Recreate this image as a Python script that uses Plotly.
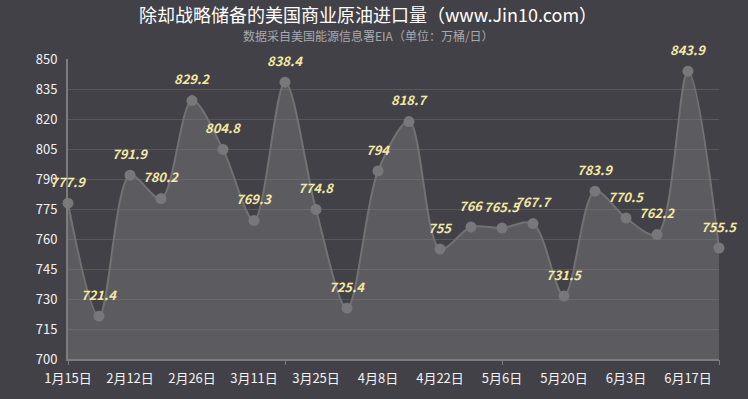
import plotly.graph_objects as go

dates = ["1月15日", "1月29日", "2月12日", "2月19日", "2月26日", "3月4日", "3月11日", "3月18日",
         "3月25日", "4月1日", "4月8日", "4月15日", "4月22日", "4月29日", "5月6日", "5月13日",
         "5月20日", "5月27日", "6月3日", "6月10日", "6月17日", "6月24日"]
values = [777.9, 721.4, 791.9, 780.2, 829.2, 804.8, 769.3, 838.4, 774.8, 725.4, 794,
          818.7, 755, 766, 765.5, 767.7, 731.5, 783.9, 770.5, 762.2, 843.9, 755.5]
y_ticks = [700, 715, 730, 745, 760, 775, 790, 805, 820, 835, 850]

title = "除却战略储备的美国商业原油进口量（www.Jin10.com）"
subtitle = "数据采自美国能源信息署EIA（单位：万桶/日）"

FONT = "Noto Sans CJK SC, Microsoft YaHei, sans-serif"
BG = "#424147"
CX = 368 / 748

fig = go.Figure()
fig.add_trace(go.Scatter(
    x=dates, y=values,
    mode="lines+markers",
    line=dict(color="#727274", width=2, shape="spline", smoothing=0.9),
    marker=dict(color="#78787a", size=11),
    fill="tozeroy", fillcolor="rgba(135,135,138,0.38)",
    cliponaxis=False, hoverinfo="x+y",
))
# tick marks overlay axis
fig.add_trace(go.Scatter(x=[0, 21], y=[700, 700], xaxis="x2", mode="markers",
                         marker=dict(opacity=0), hoverinfo="skip", showlegend=False))

for d, v in zip(dates, values):
    fig.add_annotation(x=d, y=v, text=f"<b><i>{v:g}</i></b>", showarrow=False,
                       yshift=22, font=dict(family=FONT, size=13, color="#f3e8a4"))

fig.add_annotation(xref="paper", yref="paper", x=(368 - 68) / 651, y=1,
                   xanchor="center", yanchor="middle", text=subtitle, showarrow=False,
                   yshift=24, font=dict(family=FONT, size=12, color="#a9a9ad"))

fig.update_layout(
    width=748, height=399,
    paper_bgcolor=BG, plot_bgcolor=BG,
    margin=dict(l=68, r=29, t=59, b=40),
    showlegend=False,
    title=dict(text=title, x=CX, xref="container", xanchor="center", y=1 - 16 / 399,
               yref="container", yanchor="middle",
               font=dict(family=FONT, size=18, color="#ffffff")),
    xaxis=dict(type="category", range=[0, 21], tickvals=dates[::2], ticktext=dates[::2],
               showgrid=False, showline=True, linecolor="#7c7c7e", linewidth=2,
               ticks="", ticklabelstandoff=6, zeroline=False,
               tickfont=dict(family=FONT, size=13, color="#f2f2f2")),
    xaxis2=dict(overlaying="x", anchor="y", range=[0, 21], tickvals=[0, 7, 14, 21],
                ticks="outside", ticklen=5, tickcolor="#7c7c7e", showticklabels=False,
                showgrid=False, showline=False, zeroline=False),
    yaxis=dict(range=[700, 850], tickvals=y_ticks, showgrid=True, gridcolor="#58575c",
               gridwidth=1, showline=True, linecolor="#7c7c7e", linewidth=2, ticks="",
               ticklabelstandoff=6, zeroline=False,
               tickfont=dict(family=FONT, size=13, color="#f2f2f2")),
)

fig.write_html("out.html")
